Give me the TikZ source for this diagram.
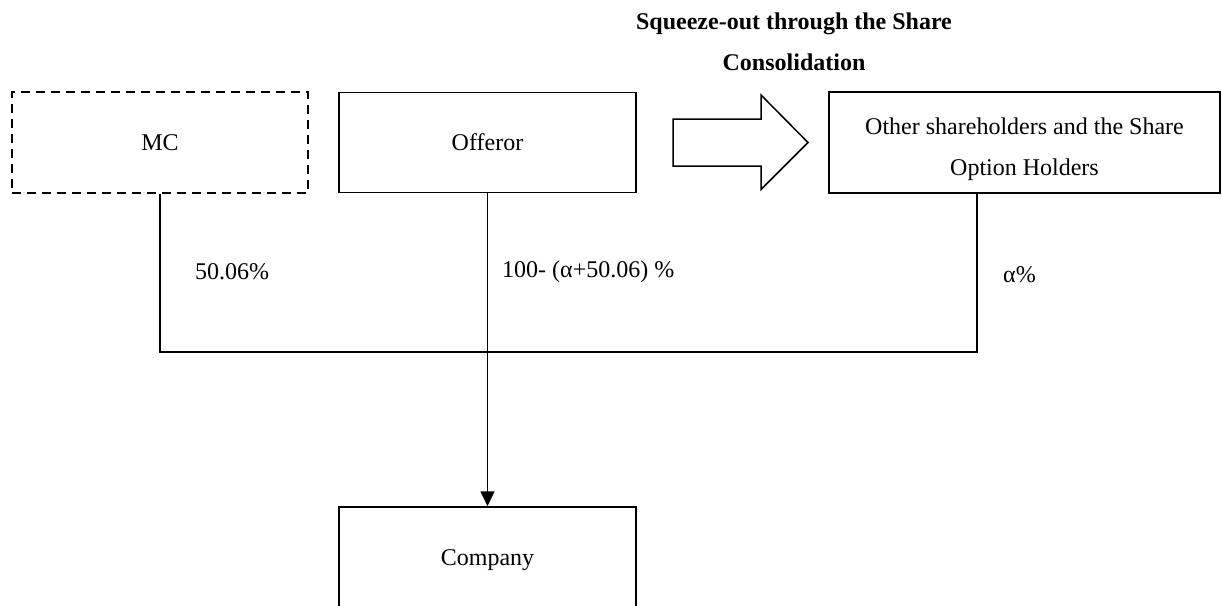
\documentclass[tikz,border=0pt]{standalone}
\usepackage{fontspec}
\setmainfont{Liberation Serif}
\usepackage{tikz}
\usetikzlibrary{arrows.meta,positioning,calc}

\begin{document}
\begin{tikzpicture}
[x=1pt,y=-1pt,
every node/.style={font=\fontsize{24}{41}\selectfont},
box/.style={rectangle,draw=black,line width=1.5pt,inner sep=5pt,align=center},
dashedbox/.style={box,dash pattern=on 9pt off 6pt},
conn/.style={line width=1.5pt},
arrowconn/.style={-{Triangle[width=14pt,length=15pt]},line width=1.5pt},
label/.style={anchor=west,inner sep=0pt}]
\useasboundingbox (0,0) rectangle (1222,605);
\clip (0,0) rectangle (1222,605);
\node[dashedbox,minimum width=296pt,minimum height=101pt] (mc) at (160,142.5) {MC};
\node[box,minimum width=297pt,minimum height=100pt] (offeror) at (487.5,142.5) {Offeror};
\node[box,minimum width=391pt,minimum height=101pt,text height=71pt] (others) at (1024.5,142.5) {Other shareholders and the Share\\Option Holders};
\node[box,minimum width=297pt,minimum height=106pt] (company) at (487.5,560) {Company};
\node[align=center,font=\fontsize{24}{41}\selectfont\bfseries] (title) at (794,42) {Squeeze-out through the Share\\Consolidation};
% block arrow
\coordinate (tail) at (673,142.5);
\draw[line width=1.5pt,line join=miter] ($(tail)+(0,-23.5)$) -- ++(88,0) -- ++(0,-24) -- (808,142.5) -- (761,189.5) -- ++(0,-23.5) -- ($(tail)+(0,23.5)$) -- cycle;
% shareholding lines
\coordinate (mcdown) at (mc.south |- 0,352);
\coordinate (othersdown) at (977,352);
\draw[conn] (mc.south) -- (mcdown) -- (othersdown) -- (othersdown |- others.south);
\draw[arrowconn] (offeror.south) -- (company.north);
\node[label] (mcshare) at (195,272) {50.06\%};
\node[label] (offerorshare) at (502,272) {100- (α+50.06) \%};
\node[label] (othershare) at (1003,275) {α\%};
\end{tikzpicture}
\end{document}
